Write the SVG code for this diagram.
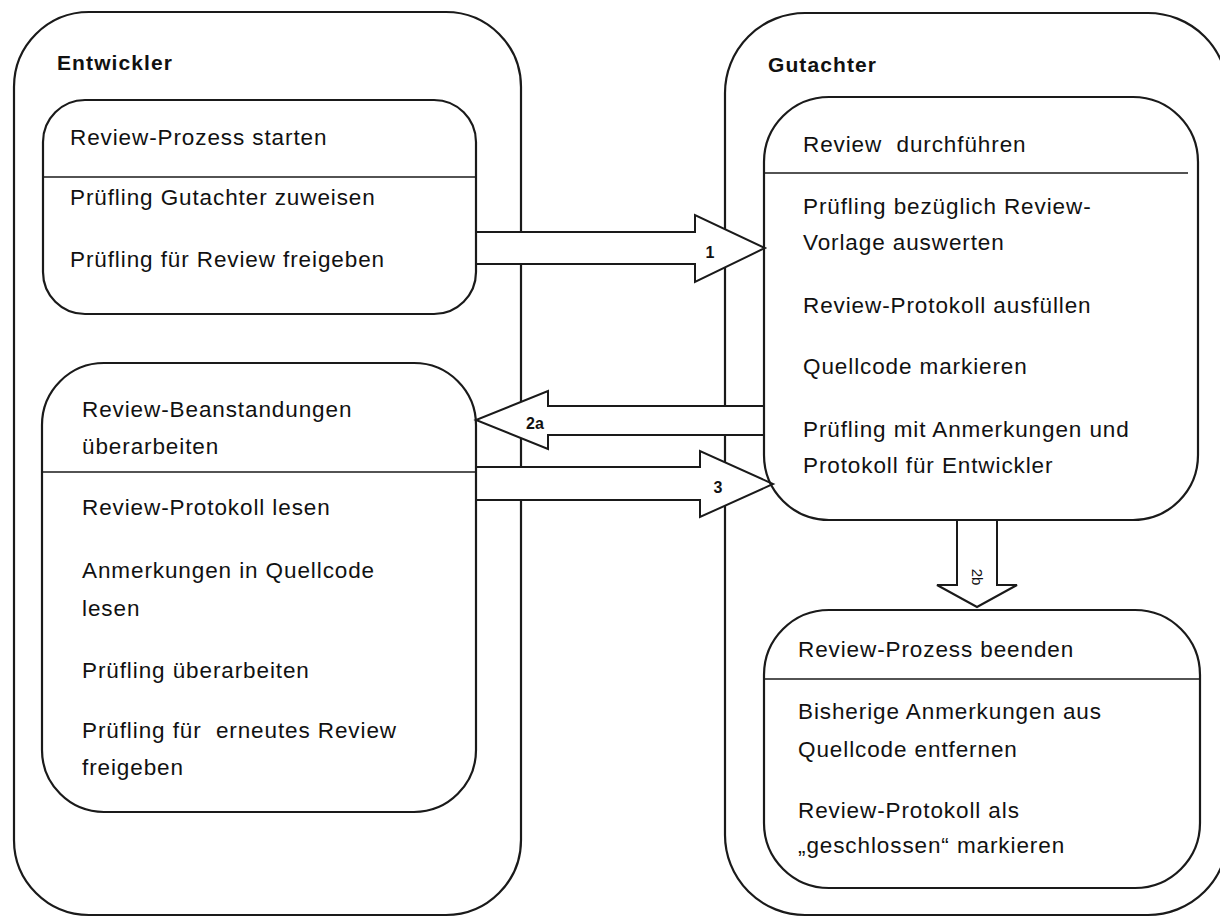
<svg xmlns="http://www.w3.org/2000/svg" width="1220" height="917" viewBox="0 0 1220 917">
<style>
.frame{fill:none;stroke:#1a1a1a;stroke-width:2.2}
.box{fill:none;stroke:#1a1a1a;stroke-width:2.2}
.div{stroke:#1a1a1a;stroke-width:1.6}
.arrow{fill:#fff;stroke:#1a1a1a;stroke-width:2}
.t{font-family:"Liberation Sans",Arial,sans-serif;font-size:22.5px;letter-spacing:0.9px;fill:#111;white-space:pre}
.h{font-family:"Liberation Sans",Arial,sans-serif;font-size:21px;font-weight:bold;letter-spacing:1.1px;fill:#111}
.lbl{font-family:"Liberation Sans",Arial,sans-serif;font-size:16px;font-weight:bold;fill:#111;text-anchor:middle}
</style>
<rect width="1220" height="917" fill="#fff"/>
<g id="entwickler">
<rect class="frame" x="14" y="12" width="507" height="903" rx="75"/>
<text class="h" x="57" y="70">Entwickler</text>
</g>
<g id="gutachter">
<rect class="frame" x="725" y="13" width="503" height="902" rx="80"/>
<text class="h" x="768" y="72">Gutachter</text>
</g>
<g id="connectors">
<path id="c1" class="arrow" d="M476,232 H695 V215 L765,248 L695,282 V264 H476"/>
<text class="lbl" x="710" y="258">1</text>
<path id="c2a" class="arrow" d="M765,406 H548 V391 L476,420 L548,449 V435 H765"/>
<text class="lbl" x="535" y="429">2a</text>
<path id="c3" class="arrow" d="M476,467 H700 V451 L773,484 L700,517 V500 H476"/>
<text class="lbl" x="718" y="493">3</text>
<path id="c2b" class="arrow" d="M957,520 V585 H937 L977,607 L1017,585 H997 V520"/>
<text class="lbl" transform="translate(977,577) rotate(90)" y="5" style="font-weight:normal;font-size:15px">2b</text>
</g>
<g id="start">
<rect class="box" x="43" y="100" width="433" height="214" rx="42"/>
<line class="div" x1="43" y1="177" x2="476" y2="177"/>
<text class="t" x="70" y="145">Review-Prozess starten</text>
<text class="t" x="70" y="205">Prüfling Gutachter zuweisen</text>
<text class="t" x="70" y="267">Prüfling für Review freigeben</text>
</g>
<g id="ueberarbeiten">
<rect class="box" x="42" y="363" width="434" height="449" rx="62"/>
<line class="div" x1="42" y1="472" x2="476" y2="472"/>
<text class="t" x="82" y="417">Review-Beanstandungen</text>
<text class="t" x="82" y="454">überarbeiten</text>
<text class="t" x="82" y="515">Review-Protokoll lesen</text>
<text class="t" x="82" y="578">Anmerkungen in Quellcode</text>
<text class="t" x="82" y="616">lesen</text>
<text class="t" x="82" y="678">Prüfling überarbeiten</text>
<text class="t" x="82" y="738">Prüfling für  erneutes Review</text>
<text class="t" x="82" y="775">freigeben</text>
</g>
<g id="durchfuehren">
<rect class="box" x="764" y="97" width="434" height="423" rx="65"/>
<line class="div" x1="764" y1="173" x2="1188" y2="173"/>
<text class="t" x="803" y="152">Review  durchführen</text>
<text class="t" x="803" y="214">Prüfling bezüglich Review-</text>
<text class="t" x="803" y="250">Vorlage auswerten</text>
<text class="t" x="803" y="313">Review-Protokoll ausfüllen</text>
<text class="t" x="803" y="374">Quellcode markieren</text>
<text class="t" x="803" y="437">Prüfling mit Anmerkungen und</text>
<text class="t" x="803" y="473">Protokoll für Entwickler</text>
</g>
<g id="beenden">
<rect class="box" x="764" y="610" width="436" height="278" rx="65"/>
<line class="div" x1="764" y1="679" x2="1200" y2="679"/>
<text class="t" x="798" y="657">Review-Prozess beenden</text>
<text class="t" x="798" y="719">Bisherige Anmerkungen aus</text>
<text class="t" x="798" y="757">Quellcode entfernen</text>
<text class="t" x="798" y="818">Review-Protokoll als</text>
<text class="t" x="798" y="853">„geschlossen“ markieren</text>
</g>
</svg>
